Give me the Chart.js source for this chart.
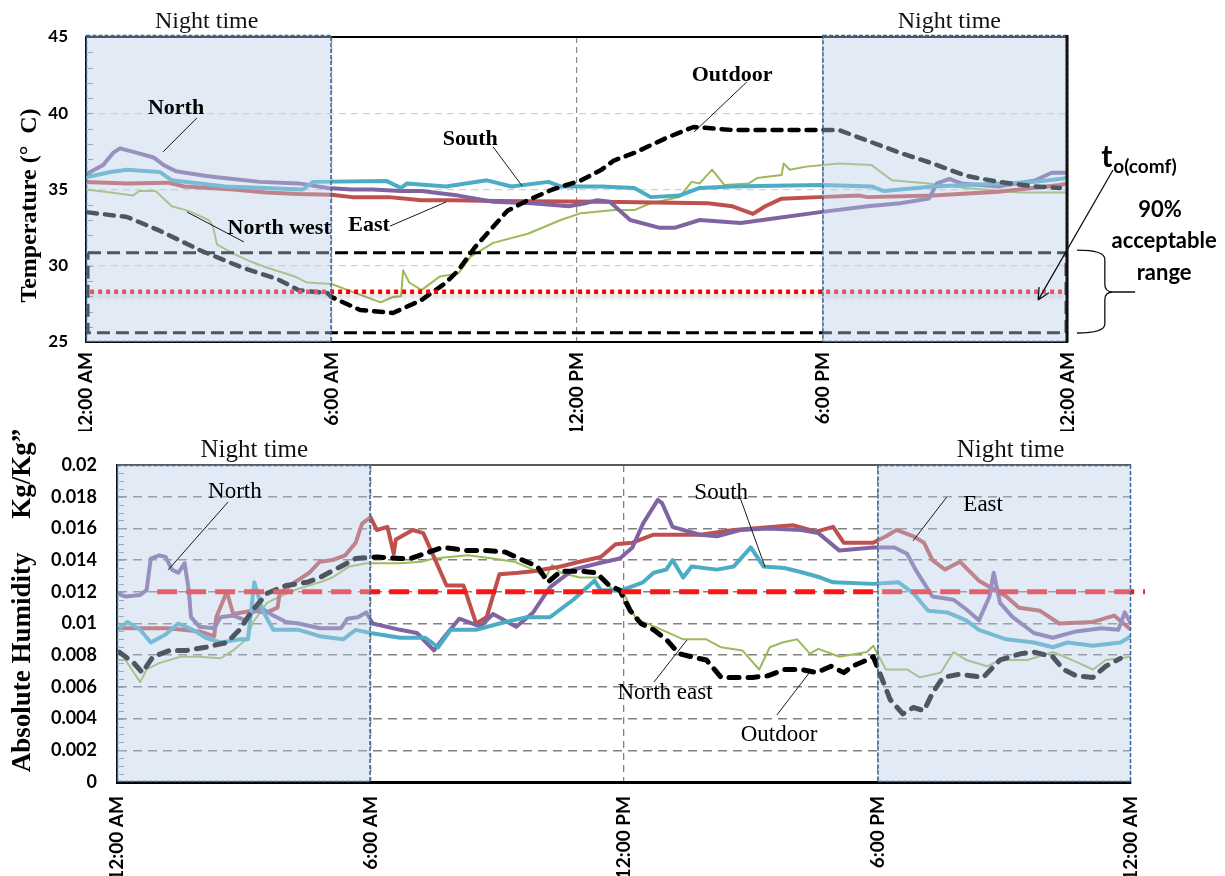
<!DOCTYPE html>
<html>
<head>
<meta charset="utf-8">
<script src="https://cdn.jsdelivr.net/npm/chart.js@4.4.1/dist/chart.umd.min.js"></script>
<style>
  html, body { margin: 0; padding: 0; background: #fff; width: 1225px; height: 876px; overflow: hidden; }
  canvas { position: absolute; left: 0; }
  #tempChart { top: 0; }
  #humChart { top: 420px; }
</style>
</head>
<body>
<canvas id="tempChart" width="1225" height="431"></canvas>
<canvas id="humChart" width="1225" height="456"></canvas>
<script>
// ---------- shared time axis (hours after midnight) ----------
const timeTickValues = [0, 6, 12, 18, 24];
const timeTickLabels = ['12:00 AM', '6:00 AM', '12:00 PM', '6:00 PM', '12:00 AM'];
const nightPeriods = [[0, 6], [18, 24]];

// ---------- operative temperature, °C ----------
const tempTickValues = [25, 30, 35, 40, 45];

const tempNorthHours = [0,0.42,0.66,0.83,1.25,1.65,1.9,2.2,2.9,3.2,4.25,5.2,5.9,6.5,7.0,7.7,8.2,9.1,9.95,10.9,11.8,12.2,12.5,12.8,13.3,14.0,14.4,15.0,16.0,16.8,17.9,19.1,19.9,20.6,20.8,21.1,21.4,22.3,23.2,23.6,24];
const tempNorth = [36.0,36.6,37.4,37.7,37.4,37.1,36.6,36.2,35.9,35.8,35.5,35.4,35.1,35.0,35.0,34.9,34.9,34.6,34.2,34.1,33.9,34.1,34.3,34.2,33.0,32.5,32.5,33.0,32.8,33.1,33.5,33.9,34.1,34.4,35.4,35.7,35.4,35.2,35.6,36.1,36.1];

const tempSouthHours = [0,0.6,1.0,1.8,2.1,3.4,5.3,5.55,7.35,7.7,7.85,8.8,9.8,10.4,11.3,11.6,12.6,13.4,13.8,14.5,15.0,15.8,16.8,18.0,19.2,19.5,20.7,23.2,24];
const tempSouth = [35.8,36.15,36.3,36.15,35.6,35.2,35.0,35.5,35.55,35.1,35.4,35.2,35.6,35.2,35.5,35.2,35.2,35.1,34.5,34.6,35.1,35.2,35.25,35.3,35.2,34.9,35.2,35.5,35.75];

const tempEastHours = [0,1.0,2.0,2.4,3.0,3.6,4.4,5.2,6.0,6.5,7.4,8.2,9.0,10.0,12.6,15.2,15.8,16.3,16.6,17.0,17.9,18.9,19.1,20.7,22.3,23.8,24];
const tempEast = [35.5,35.4,35.45,35.2,35.1,35.0,34.8,34.7,34.65,34.5,34.5,34.3,34.3,34.25,34.2,34.1,33.9,33.4,33.9,34.4,34.5,34.6,34.5,34.6,34.85,35.3,35.4];

const tempNorthWestHours = [0,0.6,1.15,1.3,1.7,2.1,2.5,3.0,3.1,3.2,3.6,4.0,4.4,5.1,5.4,6.0,6.5,7.2,7.5,7.7,7.75,7.9,8.2,8.65,9.1,9.4,9.95,10.8,11.6,12.1,12.9,13.4,13.8,14.5,14.8,15.0,15.3,15.6,16.2,16.4,17.0,17.05,17.2,17.6,18.4,19.2,19.7,20.6,21.5,22.8,24];
const tempNorthWest = [35.0,34.8,34.6,34.9,34.9,33.9,33.6,33.0,32.6,31.4,30.8,30.3,29.9,29.3,28.9,28.8,28.3,27.6,27.95,28.0,29.7,28.9,28.4,29.3,29.5,30.6,31.5,32.1,33.0,33.45,33.65,33.65,34.1,34.5,35.5,35.4,36.3,35.3,35.4,35.75,35.95,36.7,36.3,36.5,36.7,36.6,35.6,35.4,35.1,34.8,34.8];

const tempOutdoorHours = [0.05,1.0,1.8,2.8,3.8,4.7,5.2,5.9,6.0,6.7,7.5,8.2,8.8,9.1,9.5,9.8,10.3,10.8,11.4,12.1,12.6,12.9,13.4,14.2,14.85,15.8,16.8,17.9,18.4,19.1,19.9,20.7,21.5,22.3,23.2,23.8];
const tempOutdoor = [33.5,33.2,32.3,31.0,29.9,29.1,28.4,28.2,27.95,27.1,26.9,27.75,28.9,29.7,31.2,32.1,33.6,34.3,35.0,35.6,36.3,36.9,37.4,38.4,39.1,38.9,38.9,38.9,38.9,38.2,37.4,36.7,35.9,35.5,35.2,35.1];

// adaptive comfort temperature and its 90 % acceptability band
const comfortHours = [0.1, 23.85];
const comfortTemp = [28.3, 28.3];
const acceptBandHours = [0.05, 23.95, 23.95, 0.05, 0.05];
const acceptBandTemp = [30.85, 30.85, 25.6, 25.6, 30.85];

// ---------- absolute humidity, kg/kg ----------
const humTickValues = [0, 0.002, 0.004, 0.006, 0.008, 0.01, 0.012, 0.014, 0.016, 0.018, 0.02];
const humTickLabels = ['0', '0.002', '0.004', '0.006', '0.008', '0.01', '0.012', '0.014', '0.016', '0.018', '0.02'];

const humNorthHours = [0,0.2,0.55,0.7,0.8,1.0,1.15,1.3,1.45,1.6,1.7,1.75,1.95,2.3,2.45,2.75,3.05,3.2,3.4,3.7,4.0,4.3,4.8,5.3,5.45,5.7,5.9,6.05,6.7,7.1,7.5,7.7,8.1,8.6,8.9,9.45,9.85,10.25,10.8,11.4,11.9,12.2,12.45,12.8,12.9,13.15,13.8,14.2,14.75,15.4,16.2,16.6,17.1,17.9,18.4,18.7,18.9,19.3,19.8,20.1,20.4,20.65,20.75,20.9,21.2,21.7,22.15,22.7,23.3,23.7,23.85,24];
const humNorth = [0.0119,0.0117,0.0118,0.0121,0.0141,0.0143,0.0142,0.0134,0.0132,0.0138,0.0121,0.0104,0.0098,0.0097,0.0104,0.0105,0.0102,0.0107,0.0110,0.0105,0.0101,0.0100,0.0097,0.0097,0.0103,0.0104,0.0107,0.0100,0.0096,0.0094,0.0083,0.0090,0.0103,0.0098,0.0106,0.0098,0.0107,0.0123,0.0134,0.0138,0.0141,0.0148,0.0163,0.0178,0.0176,0.0161,0.0156,0.0155,0.0159,0.0160,0.0159,0.0157,0.0146,0.0148,0.0148,0.0144,0.0134,0.0117,0.0115,0.0109,0.0102,0.0117,0.0132,0.0113,0.0104,0.0094,0.0091,0.0095,0.0097,0.0096,0.0107,0.0100];

const humEastHours = [0,1.2,1.95,2.3,2.35,2.6,2.75,3.2,3.55,3.8,3.85,4.15,4.55,4.8,5.1,5.4,5.65,5.8,6.0,6.15,6.4,6.55,6.6,7.0,7.25,7.5,7.8,8.2,8.5,8.75,9.05,9.5,9.85,10.5,10.95,11.45,11.8,12.2,12.7,13.8,14.6,16.0,16.55,16.95,17.2,17.9,18.2,18.45,18.85,19.1,19.3,19.6,19.95,20.4,21.05,21.35,21.85,22.3,23.1,23.6,24];
const humEast = [0.0097,0.0097,0.0095,0.0092,0.0104,0.0120,0.0106,0.0108,0.0107,0.0110,0.0119,0.0125,0.0132,0.0139,0.0140,0.0143,0.0151,0.0163,0.0167,0.0159,0.0161,0.0144,0.0153,0.0159,0.0157,0.0142,0.0124,0.0124,0.0100,0.0104,0.0131,0.0132,0.0133,0.0136,0.0139,0.0142,0.0150,0.0151,0.0156,0.0156,0.0159,0.0162,0.0158,0.0161,0.0151,0.0151,0.0155,0.0159,0.0155,0.0151,0.0140,0.0134,0.0139,0.0127,0.0117,0.0110,0.0108,0.0100,0.0101,0.0105,0.0096];

const humSouthHours = [0,0.25,0.55,0.8,1.15,1.45,1.8,2.1,2.45,2.9,3.1,3.25,3.45,3.7,4.3,4.8,5.35,5.65,6.0,6.7,7.3,7.6,7.9,8.5,9.05,9.7,10.25,10.8,11.3,11.45,11.95,12.45,12.7,13.0,13.15,13.4,13.6,14.2,14.6,15.0,15.3,15.8,16.25,16.65,16.95,17.9,18.5,18.85,19.2,19.65,20.1,20.4,21.05,21.7,22.15,22.5,23.1,23.75,24];
const humSouth = [0.0096,0.0101,0.0096,0.0088,0.0093,0.0100,0.0096,0.0091,0.0088,0.0090,0.0090,0.0126,0.0108,0.0096,0.0096,0.0092,0.0090,0.0096,0.0094,0.0091,0.0091,0.0085,0.0096,0.0096,0.0100,0.0104,0.0104,0.0115,0.0127,0.0121,0.0121,0.0126,0.0132,0.0134,0.0140,0.0129,0.0136,0.0134,0.0136,0.0148,0.0136,0.0135,0.0132,0.0129,0.0126,0.0125,0.0126,0.0119,0.0108,0.0107,0.0102,0.0096,0.0090,0.0088,0.0085,0.0088,0.0086,0.0088,0.0092];

const humNorthEastHours = [0,0.2,0.55,0.7,1.0,1.5,1.95,2.45,2.75,3.1,3.2,3.55,3.85,4.3,4.8,5.1,5.5,5.9,6.7,7.2,7.5,8.3,8.9,9.4,9.85,10.15,10.3,10.5,10.95,11.45,11.75,12.0,12.3,12.55,12.9,13.4,13.95,14.3,14.8,15.2,15.45,15.75,16.1,16.4,16.6,17.1,17.75,17.9,18.2,18.7,19.0,19.5,19.8,20.1,20.6,20.9,21.55,22.15,22.6,23.1,23.4,24];
const humNorthEast = [0.0077,0.0077,0.0063,0.0071,0.0075,0.0079,0.0079,0.0078,0.0083,0.0091,0.0100,0.0113,0.0117,0.0122,0.0126,0.0129,0.0136,0.0138,0.0138,0.0139,0.0141,0.0143,0.0141,0.0139,0.0134,0.0129,0.0137,0.0132,0.0129,0.0129,0.0121,0.0119,0.0102,0.0100,0.0096,0.0090,0.0090,0.0085,0.0083,0.0071,0.0085,0.0088,0.0090,0.0081,0.0084,0.0079,0.0082,0.0086,0.0071,0.0071,0.0066,0.0069,0.0082,0.0077,0.0073,0.0077,0.0077,0.0082,0.0077,0.0071,0.0077,0.0079];

const humOutdoorHours = [0.05,0.4,0.6,0.85,1.25,1.65,2.1,2.6,2.9,3.2,3.55,4.0,4.5,4.8,5.3,5.65,6.15,6.7,6.95,7.7,8.3,8.75,9.2,9.6,9.95,10.2,10.5,11.0,11.35,11.65,11.9,12.15,12.4,12.7,13.0,13.3,13.6,13.95,14.3,14.6,15.05,15.4,15.8,16.2,16.55,16.9,17.2,17.4,17.75,17.9,18.05,18.3,18.6,18.85,19.1,19.3,19.55,19.95,20.5,20.9,21.4,21.7,22.15,22.4,22.7,23.1,23.4,23.75];
const humOutdoor = [0.0082,0.0075,0.0069,0.0079,0.0083,0.0083,0.0085,0.0088,0.0096,0.0108,0.0119,0.0124,0.0126,0.0129,0.0136,0.0141,0.0142,0.0141,0.0141,0.0148,0.0146,0.0146,0.0145,0.0140,0.0136,0.0126,0.0133,0.0133,0.0132,0.0124,0.0121,0.0108,0.0100,0.0096,0.0090,0.0081,0.0079,0.0077,0.0066,0.0066,0.0066,0.0067,0.0071,0.0071,0.0069,0.0073,0.0069,0.0073,0.0077,0.0079,0.0069,0.0052,0.0043,0.0047,0.0045,0.0056,0.0066,0.0068,0.0066,0.0077,0.0081,0.0082,0.0079,0.0071,0.0067,0.0066,0.0073,0.0078];

// humidity limit line
const humLimitHours = [0.95, 24.33];
const humLimit = [0.012, 0.012];

// ---------- styling ----------
const SANS = 'Lato, "Liberation Sans", sans-serif';
const SERIF = '"Liberation Serif", "Times New Roman", serif';
const COLORS = { north: '#8064A2', south: '#4BACC6', east: '#C0504D', green: '#9BBB59', outdoor: '#000000' };

const toPoints = (hours, values) => hours.map((h, i) => ({ x: h, y: values[i] }));

function line(label, hours, values, color, width, extra) {
  return Object.assign({
    label, data: toPoints(hours, values), borderColor: color, borderWidth: width,
    pointRadius: 0, tension: 0, fill: false, borderJoinStyle: 'round', borderCapStyle: 'butt'
  }, extra || {});
}

function drawNote(ctx, px, py, n, font) {
  ctx.strokeStyle = '#1a1a1a';
  ctx.lineWidth = 1;
  ctx.beginPath();
  ctx.moveTo(px(n.from[0]), py(n.from[1]));
  ctx.lineTo(px(n.to[0]), py(n.to[1]));
  ctx.stroke();
  ctx.font = font;
  ctx.fillStyle = '#000';
  ctx.textAlign = 'center';
  ctx.textBaseline = 'middle';
  ctx.fillText(n.text, px(n.at[0]), py(n.at[1]));
}

function drawRotated(ctx, text, x, y, font) {
  ctx.save();
  ctx.translate(x, y);
  ctx.rotate(-Math.PI / 2);
  ctx.font = font;
  ctx.fillStyle = '#000';
  ctx.textAlign = 'center';
  ctx.textBaseline = 'middle';
  ctx.fillText(text, 0, 0);
  ctx.restore();
}

// frame, minor ticks, night shading and text decorations for one panel
function decorPlugin(d) {
  return {
    id: 'panelDecor',
    beforeDatasetsDraw(chart) {
      const { ctx, chartArea: a, scales } = chart;
      ctx.save();
      ctx.strokeStyle = d.frameColor;
      ctx.lineWidth = d.frameWidth;
      ctx.beginPath();
      ctx.moveTo(a.left, a.top);
      ctx.lineTo(a.right, a.top);
      ctx.stroke();
      ctx.strokeStyle = '#8c8c8c';
      ctx.lineWidth = 1;
      const n = Math.round((d.minorTo - d.minorFrom) / d.minorStep);
      for (let i = 1; i < n; i++) {
        const y = Math.round(scales.y.getPixelForValue(d.minorFrom + i * d.minorStep)) + 0.5;
        ctx.beginPath();
        ctx.moveTo(a.left + 2, y);
        ctx.lineTo(a.left + 7, y);
        ctx.stroke();
      }
      ctx.restore();
    },
    beforeDatasetDraw(chart, args) {
      if (args.index === d.shadowIndex) {
        const c = chart.ctx;
        c.save();
        c.shadowColor = 'rgba(70,70,70,0.35)';
        c.shadowBlur = 4;
        c.shadowOffsetY = 4;
      }
    },
    afterDatasetDraw(chart, args) {
      if (args.index === d.shadowIndex) chart.ctx.restore();
    },
    afterDatasetsDraw(chart) {
      const { ctx, chartArea: a, scales: { x } } = chart;
      ctx.save();
      nightPeriods.forEach(([h0, h1]) => {
        const x0 = x.getPixelForValue(h0), x1 = x.getPixelForValue(h1);
        const top = a.top - d.nightRise;
        ctx.fillStyle = 'rgba(185,205,232,0.42)';
        ctx.fillRect(x0, top, x1 - x0, a.bottom - top);
        ctx.strokeStyle = '#3c6696';
        ctx.lineWidth = 1.5;
        ctx.setLineDash([4, 2]);
        ctx.strokeRect(x0 + 0.5, top + 0.5, x1 - x0 - 1, a.bottom - top - 1);
      });
      ctx.setLineDash([]);
      if (d.rightBar) {
        ctx.strokeStyle = '#111';
        ctx.lineWidth = 3;
        ctx.beginPath();
        ctx.moveTo(a.right - 1, a.top - 2);
        ctx.lineTo(a.right - 1, a.bottom);
        ctx.stroke();
      }
      ctx.restore();
    },
    afterDraw(chart) {
      const { ctx, scales: { x, y } } = chart;
      const px = h => x.getPixelForValue(h), py = v => y.getPixelForValue(v);
      ctx.save();
      d.draw(ctx, px, py, chart.chartArea);
      ctx.restore();
    }
  };
}

function timeAxis(height, labelPad) {
  return {
    type: 'linear', min: 0, max: 24,
    afterBuildTicks: s => { s.ticks = timeTickValues.map(v => ({ value: v })); },
    afterFit: s => { s.height = height; },
    ticks: {
      autoSkip: false, minRotation: 90, maxRotation: 90, padding: labelPad, color: '#000',
      font: { family: SANS, size: 19, weight: 'bold' },
      callback: (v, i) => timeTickLabels[i]
    }
  };
}

// ================= temperature panel =================
const tempNotes = [
  { text: 'North', at: [2.20, 40.34], from: [2.71, 39.69], to: [1.88, 37.46] },
  { text: 'North west', at: [4.72, 32.48], from: [2.47, 33.52], to: [3.86, 31.56] },
  { text: 'East', at: [6.92, 32.67], from: [7.43, 32.60], to: [8.80, 34.18] },
  { text: 'South', at: [9.39, 38.31], from: [9.95, 37.79], to: [10.66, 35.23] },
  { text: 'Outdoor', at: [15.79, 42.51], from: [16.15, 42.05], to: [14.86, 38.77] }
];

const tempX = timeAxis(89, 10);
tempX.grid = {
  drawTicks: false, lineWidth: 1.2,
  color: c => (c.tick && c.tick.value > 0 && c.tick.value < 24) ? '#8a8a8a' : 'rgba(0,0,0,0)'
};
tempX.border = { display: true, color: '#000', width: 2, dash: [6, 4] };

new Chart(document.getElementById('tempChart'), {
  type: 'line',
  data: {
    datasets: [
      line('Comfort temperature', comfortHours, comfortTemp, '#ff0000', 4.5, { borderDash: [4, 4], clip: false }),
      line('90% acceptable range', acceptBandHours, acceptBandTemp, '#000', 3, { borderDash: [13, 6], clip: false, borderJoinStyle: 'miter' }),
      line('Outdoor', tempOutdoorHours, tempOutdoor, COLORS.outdoor, 4.5, { borderDash: [9, 8], borderCapStyle: 'round' }),
      line('South', tempSouthHours, tempSouth, COLORS.south, 4),
      line('North', tempNorthHours, tempNorth, COLORS.north, 4),
      line('East', tempEastHours, tempEast, COLORS.east, 4),
      line('North west', tempNorthWestHours, tempNorthWest, COLORS.green, 2)
    ]
  },
  options: {
    responsive: false, animation: false, devicePixelRatio: 1,
    layout: { padding: { left: 0, right: 157, top: 37, bottom: 0 } },
    plugins: { legend: { display: false }, tooltip: { enabled: false } },
    scales: {
      x: tempX,
      y: {
        type: 'linear', min: 25, max: 45,
        afterBuildTicks: s => { s.ticks = tempTickValues.map(v => ({ value: v })); },
        afterFit: s => { s.width = 86; },
        ticks: { padding: 18, color: '#000', font: { family: SANS, size: 17, weight: 'bold' }, callback: v => String(v) },
        grid: {
          drawTicks: false, lineWidth: 1.2,
          color: c => (c.tick && c.tick.value > 25 && c.tick.value < 45) ? '#d2d2d2' : 'rgba(0,0,0,0)'
        },
        border: { display: true, color: '#000', width: 2, dash: [7, 5] }
      }
    }
  },
  plugins: [decorPlugin({
    frameColor: '#000', frameWidth: 2, minorFrom: 25, minorTo: 45, minorStep: 1,
    nightRise: 2, rightBar: true, shadowIndex: 0,
    draw(ctx, px, py, a) {
      ctx.font = '24px ' + SERIF;
      ctx.fillStyle = '#111';
      ctx.textAlign = 'center';
      ctx.textBaseline = 'middle';
      ctx.fillText('Night time', px(2.95), a.top - 15);
      ctx.fillText('Night time', px(21.1), a.top - 15);

      tempNotes.forEach(n => drawNote(ctx, px, py, n, 'bold 22px ' + SERIF));

      drawRotated(ctx, 'Temperature (°  C)', 30, (a.top + a.bottom) / 2 + 16, 'bold 24px ' + SERIF);

      // comfort temperature callout
      ctx.fillStyle = '#000';
      ctx.textAlign = 'left';
      ctx.textBaseline = 'alphabetic';
      ctx.font = 'bold 30px ' + SANS;
      const tx = px(24.81);
      ctx.fillText('t', tx, py(36.48));
      const tw = ctx.measureText('t').width;
      ctx.font = 'bold 19px ' + SANS;
      ctx.fillText('o(comf)', tx + tw + 1, py(36.08));

      const ax0 = px(25.10), ay0 = py(36.28), ax1 = px(23.27), ay1 = py(27.75);
      ctx.strokeStyle = '#111';
      ctx.lineWidth = 1.3;
      ctx.beginPath();
      ctx.moveTo(ax0, ay0);
      ctx.lineTo(ax1, ay1);
      const ang = Math.atan2(ay1 - ay0, ax1 - ax0);
      [0.45, -0.45].forEach(o => {
        ctx.moveTo(ax1, ay1);
        ctx.lineTo(ax1 - 13 * Math.cos(ang + o), ay1 - 13 * Math.sin(ang + o));
      });
      ctx.stroke();

      ctx.textAlign = 'center';
      ctx.textBaseline = 'middle';
      ctx.font = 'bold 22px ' + SANS;
      ctx.fillText('90%', px(26.25), py(33.66));
      ctx.fillText('acceptable', px(26.35), py(31.62));
      ctx.fillText('range', px(26.35), py(29.52));

      // brace spanning the acceptable band
      const bx0 = px(24.22), bx1 = px(24.90), bx2 = px(25.64);
      const yt = py(31.03), ym = py(28.28), yb = py(25.59);
      ctx.lineWidth = 1.3;
      ctx.beginPath();
      ctx.moveTo(bx0, yt);
      ctx.quadraticCurveTo(bx1, yt, bx1, yt + 9);
      ctx.lineTo(bx1, ym - 8);
      ctx.quadraticCurveTo(bx1, ym, bx1 + 8, ym);
      ctx.lineTo(bx2, ym);
      ctx.moveTo(bx1 + 8, ym);
      ctx.quadraticCurveTo(bx1, ym, bx1, ym + 8);
      ctx.lineTo(bx1, yb - 9);
      ctx.quadraticCurveTo(bx1, yb, bx0, yb);
      ctx.stroke();
    }
  })]
});

// ================= absolute humidity panel =================
const humNotes = [
  { text: 'North', at: [2.79, 0.01830], from: [2.63, 0.01767], to: [1.21, 0.01338] },
  { text: 'South', at: [14.30, 0.01823], from: [14.75, 0.01792], to: [15.34, 0.01356] },
  { text: 'North east', at: [12.97, 0.00562], from: [12.71, 0.00631], to: [13.49, 0.00896] },
  { text: 'Outdoor', at: [15.67, 0.00297], from: [15.62, 0.00423], to: [16.40, 0.00694] },
  { text: 'East', at: [20.5, 0.01748], from: [19.64, 0.01798], to: [18.84, 0.01521] }
];

const humX = timeAxis(94, 14);
humX.grid = {
  drawTicks: false, lineWidth: 1.3,
  color: c => (c.tick && c.tick.value > 0 && c.tick.value < 24) ? '#808080' : 'rgba(0,0,0,0)'
};
humX.border = { display: true, color: '#000', width: 3, dash: [7, 5] };

new Chart(document.getElementById('humChart'), {
  type: 'line',
  data: {
    datasets: [
      line('Humidity limit', humLimitHours, humLimit, '#ff1414', 5, { borderDash: [20, 9], clip: false }),
      line('Outdoor', humOutdoorHours, humOutdoor, COLORS.outdoor, 5, { borderDash: [10, 9], borderCapStyle: 'round' }),
      line('South', humSouthHours, humSouth, COLORS.south, 4),
      line('North', humNorthHours, humNorth, COLORS.north, 4),
      line('East', humEastHours, humEast, COLORS.east, 4),
      line('North east', humNorthEastHours, humNorthEast, COLORS.green, 2)
    ]
  },
  options: {
    responsive: false, animation: false, devicePixelRatio: 1,
    layout: { padding: { left: 0, right: 94, top: 45, bottom: 0 } },
    plugins: { legend: { display: false }, tooltip: { enabled: false } },
    scales: {
      x: humX,
      y: {
        type: 'linear', min: 0, max: 0.02,
        afterBuildTicks: s => { s.ticks = humTickValues.map(v => ({ value: v })); },
        afterFit: s => { s.width = 117; },
        ticks: { padding: 20, color: '#000', font: { family: SANS, size: 18, weight: 'bold' }, callback: (v, i) => humTickLabels[i] },
        grid: {
          drawTicks: false, lineWidth: 1.5,
          color: c => (c.tick && c.tick.value > 0.0001 && c.tick.value < 0.0199) ? '#808080' : 'rgba(0,0,0,0)'
        },
        border: { display: true, color: '#000', width: 2, dash: [9, 6] }
      }
    }
  },
  plugins: [decorPlugin({
    frameColor: '#5a5a5a', frameWidth: 2, minorFrom: 0, minorTo: 0.02, minorStep: 0.0005,
    nightRise: 0, rightBar: false, shadowIndex: -1,
    draw(ctx, px, py, a) {
      ctx.font = '25px ' + SERIF;
      ctx.fillStyle = '#111';
      ctx.textAlign = 'center';
      ctx.textBaseline = 'middle';
      ctx.fillText('Night time', px(3.25), a.top - 15);
      ctx.fillText('Night time', px(21.15), a.top - 15);

      humNotes.forEach(n => drawNote(ctx, px, py, n, '23px ' + SERIF));

      drawRotated(ctx, 'Absolute Humidity     Kg/Kg\u201D', 23, (a.top + a.bottom) / 2 - 23, 'bold 27px ' + SERIF);
    }
  })]
});
</script>
</body>
</html>
